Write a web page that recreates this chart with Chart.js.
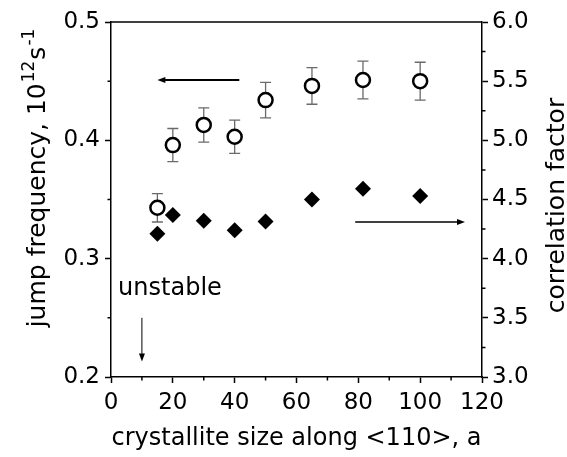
<!DOCTYPE html>
<html>
<head>
<meta charset="utf-8">
<script src="https://cdn.jsdelivr.net/npm/chart.js@4/dist/chart.umd.min.js"></script>
<style>
    html, body { margin: 0; padding: 0; background: #fff; }
    #contenedor { width: 567px; height: 457px; }
</style>
</head>
<body>
<div id="contenedor"><canvas id="grafica"></canvas></div>
<script>
// tamaño de cristalito (a) y valores
const tamanos = [15, 20, 30, 40, 50, 65, 81.5, 100];
const frecuencia = [0.343, 0.396, 0.413, 0.403, 0.434, 0.446, 0.451, 0.450];
const errorFrecuencia = [0.012, 0.014, 0.0145, 0.014, 0.015, 0.0155, 0.016, 0.016];
const factor = [4.21, 4.37, 4.32, 4.24, 4.315, 4.50, 4.59, 4.53];

const ticksX = [0, 20, 40, 60, 80, 100, 120];
const menoresX = [10, 30, 50, 70, 90, 110];
const ticksY = [0.2, 0.3, 0.4, 0.5];
const menoresY = [0.25, 0.35, 0.45];
const ticksY2 = [3.0, 3.5, 4.0, 4.5, 5.0, 5.5, 6.0];
const menoresY2 = [3.25, 3.75, 4.25, 4.75, 5.25, 5.75];

// flechas en unidades de datos (eje x, eje y izquierdo)
const flechas = [
    { x1: 41.5, y1: 0.451, x2: 15, y2: 0.451, ancho: 2 },
    { x1: 79, y1: 0.331, x2: 114.5, y2: 0.331, ancho: 1.5 },
    { x1: 10, y1: 0.25, x2: 10, y2: 0.213, ancho: 1 },
];
const etiqueta = { texto: "unstable", x: 2.3, y: 0.2692 };

const fuente = "DejaVu Sans";
Chart.defaults.font.family = fuente;
Chart.defaults.color = "#000";

function dibujarFlecha(ctx, x1, y1, x2, y2, ancho) {
    const ang = Math.atan2(y2 - y1, x2 - x1);
    const largo = 8;
    const medio = 3;
    ctx.lineWidth = ancho;
    ctx.beginPath();
    ctx.moveTo(x1, y1);
    ctx.lineTo(x2 - largo * 0.8 * Math.cos(ang), y2 - largo * 0.8 * Math.sin(ang));
    ctx.stroke();
    ctx.beginPath();
    ctx.moveTo(x2, y2);
    ctx.lineTo(x2 - largo * Math.cos(ang) + medio * Math.sin(ang), y2 - largo * Math.sin(ang) - medio * Math.cos(ang));
    ctx.lineTo(x2 - largo * Math.cos(ang) - medio * Math.sin(ang), y2 - largo * Math.sin(ang) + medio * Math.cos(ang));
    ctx.closePath();
    ctx.fill();
}

const extras = {
    id: "extras",
    beforeDatasetsDraw(chart) {
        const { ctx, scales: { x, y } } = chart;
        ctx.save();
        ctx.strokeStyle = "#6a6a6a";
        ctx.lineWidth = 1.3;
        tamanos.forEach((t, i) => {
            const px = x.getPixelForValue(t);
            const arriba = y.getPixelForValue(frecuencia[i] + errorFrecuencia[i]);
            const abajo = y.getPixelForValue(frecuencia[i] - errorFrecuencia[i]);
            ctx.beginPath();
            ctx.moveTo(px, arriba);
            ctx.lineTo(px, abajo);
            ctx.moveTo(px - 5.5, arriba);
            ctx.lineTo(px + 5.5, arriba);
            ctx.moveTo(px - 5.5, abajo);
            ctx.lineTo(px + 5.5, abajo);
            ctx.stroke();
        });
        ctx.restore();
    },
    afterDraw(chart) {
        const { ctx, chartArea: area, scales: { x, y, y2 } } = chart;
        ctx.save();
        ctx.strokeStyle = "#000";
        ctx.fillStyle = "#000";
        ctx.lineWidth = 1.5;

        // línea superior del marco
        ctx.beginPath();
        ctx.moveTo(area.left, area.top);
        ctx.lineTo(area.right, area.top);
        ctx.stroke();

        // marcas menores
        ctx.beginPath();
        menoresX.forEach((v) => {
            const px = x.getPixelForValue(v);
            ctx.moveTo(px, area.bottom);
            ctx.lineTo(px, area.bottom + 3.5);
        });
        menoresY.forEach((v) => {
            const py = y.getPixelForValue(v);
            ctx.moveTo(area.left, py);
            ctx.lineTo(area.left - 3.5, py);
        });
        menoresY2.forEach((v) => {
            const py = y2.getPixelForValue(v);
            ctx.moveTo(area.right, py);
            ctx.lineTo(area.right + 3.5, py);
        });
        ctx.stroke();

        // flechas
        flechas.forEach((f) => {
            dibujarFlecha(ctx, x.getPixelForValue(f.x1), y.getPixelForValue(f.y1),
                x.getPixelForValue(f.x2), y.getPixelForValue(f.y2), f.ancho);
        });

        // texto "unstable"
        ctx.font = `24px "${fuente}"`;
        ctx.textAlign = "left";
        ctx.textBaseline = "alphabetic";
        ctx.fillText(etiqueta.texto, x.getPixelForValue(etiqueta.x), y.getPixelForValue(etiqueta.y));

        // título eje izquierdo con superíndices
        const partes = [
            { t: "jump frequency, 10", tam: 25, sube: 0 },
            { t: "12", tam: 17, sube: 11 },
            { t: "s", tam: 25, sube: 0 },
            { t: "-1", tam: 17, sube: 11 },
        ];
        let total = 0;
        partes.forEach((p) => {
            ctx.font = `${p.tam}px "${fuente}"`;
            p.ancho = ctx.measureText(p.t).width;
            total += p.ancho + 1;
        });
        ctx.save();
        ctx.translate(45, (area.top + area.bottom) / 2 - 22);
        ctx.rotate(-Math.PI / 2);
        let pos = -total / 2;
        partes.forEach((p) => {
            ctx.font = `${p.tam}px "${fuente}"`;
            ctx.fillText(p.t, pos, -p.sube);
            pos += p.ancho + 1;
        });
        ctx.restore();

        // título eje derecho
        ctx.save();
        ctx.translate(564, (area.top + area.bottom) / 2 + 6);
        ctx.rotate(-Math.PI / 2);
        ctx.font = `25px "${fuente}"`;
        ctx.textAlign = "center";
        ctx.fillText("correlation factor", 0, 0);
        ctx.restore();

        ctx.restore();
    },
};

const rejilla = { drawOnChartArea: false, color: "#000", tickColor: "#000", tickLength: 6, tickWidth: 1.5 };
const borde = { color: "#000", width: 1.5 };

new Chart(document.getElementById("grafica"), {
    type: "scatter",
    data: {
        datasets: [
            {
                label: "jump frequency",
                data: tamanos.map((t, i) => ({ x: t, y: frecuencia[i] })),
                yAxisID: "y",
                pointStyle: "circle",
                pointRadius: 7,
                borderWidth: 2.5,
                borderColor: "#000",
                backgroundColor: "#fff",
            },
            {
                label: "correlation factor",
                data: tamanos.map((t, i) => ({ x: t, y: factor[i] })),
                yAxisID: "y2",
                pointStyle: "rectRot",
                pointRadius: 8,
                borderWidth: 0,
                borderColor: "#000",
                backgroundColor: "#000",
            },
        ],
    },
    options: {
        responsive: true,
        maintainAspectRatio: false,
        animation: false,
        layout: { padding: { top: 22, left: 0, right: 0, bottom: 0 } },
        plugins: { legend: { display: false }, tooltip: { enabled: false } },
        scales: {
            x: {
                type: "linear",
                position: "bottom",
                min: 0,
                max: 120,
                afterBuildTicks: (s) => { s.ticks = ticksX.map((v) => ({ value: v })); },
                afterFit: (s) => { s.height = 80; },
                ticks: { font: { size: 23 }, padding: 6, maxRotation: 0, autoSkip: false },
                grid: rejilla,
                border: borde,
                title: {
                    display: true,
                    text: "crystallite size along <110>, a",
                    font: { size: 24 },
                    padding: { top: 0, bottom: 4 },
                },
            },
            y: {
                position: "left",
                min: 0.2,
                max: 0.5,
                afterBuildTicks: (s) => { s.ticks = ticksY.map((v) => ({ value: v })); },
                afterFit: (s) => { s.width = 111; },
                ticks: { font: { size: 23 }, padding: 5, callback: (v) => v.toFixed(1) },
                grid: rejilla,
                border: borde,
            },
            y2: {
                position: "right",
                min: 3,
                max: 6,
                afterBuildTicks: (s) => { s.ticks = ticksY2.map((v) => ({ value: v })); },
                afterFit: (s) => { s.width = 85; },
                ticks: { font: { size: 23 }, padding: 4, callback: (v) => v.toFixed(1) },
                grid: rejilla,
                border: borde,
            },
        },
    },
    plugins: [extras],
});
</script>
</body>
</html>
